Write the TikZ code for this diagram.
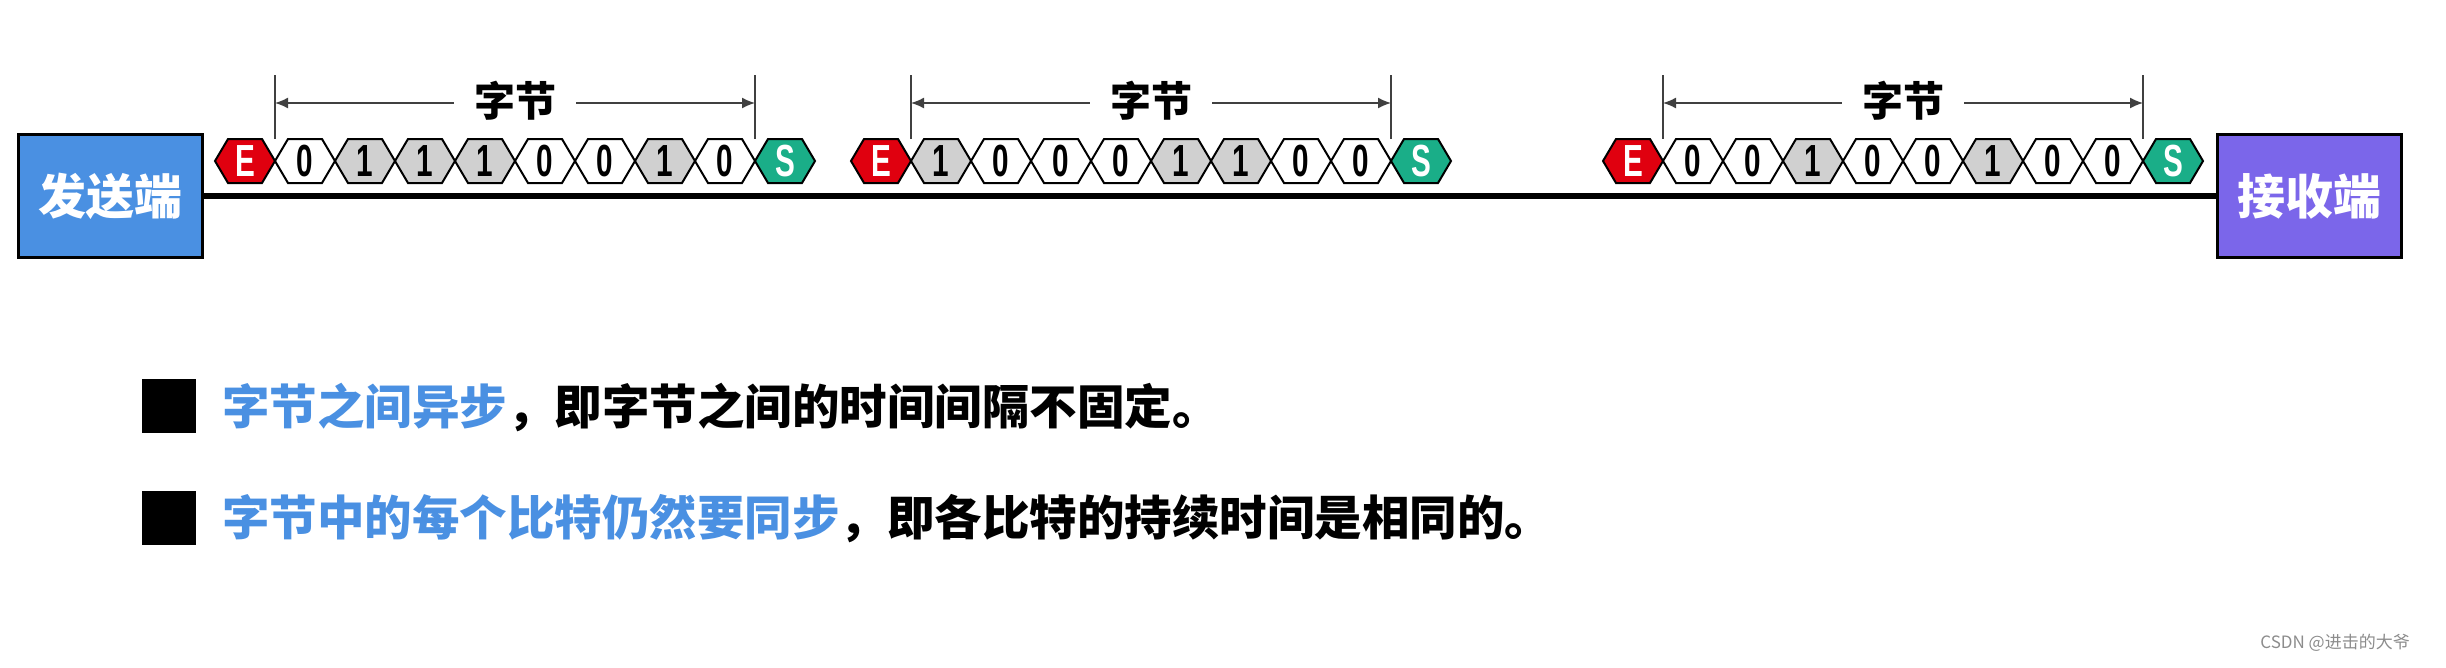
\documentclass[tikz,border=0pt]{standalone}
\usepackage{fontspec}
\usepackage{graphicx}
\setmainfont{Liberation Sans}
\newfontfamily\cjk{Noto Sans CJK SC}
\usetikzlibrary{arrows.meta}
\definecolor{sendblue}{HTML}{4A90E2}
\definecolor{recvpurple}{HTML}{7B66EA}
\definecolor{ered}{HTML}{E0000F}
\definecolor{sgreen}{HTML}{1AAE88}
\definecolor{bitgray}{HTML}{D0D0D0}
\definecolor{txtblue}{HTML}{4A90E2}
\colorlet{bitfill0}{white}
\colorlet{bitfill1}{bitgray}
\newcommand\hexcell[5]{%
  \draw[hexline,fill=#3] ({#2-30},161) -- ({#2-17},139) -- ({#2+17},139) -- ({#2+30},161) -- ({#2+17},183) -- ({#2-17},183) -- cycle;
  \node[bitlbl,text=#4] (#1) at ({#2},161) {\scalebox{0.66}[1]{#5}};}
\begin{document}
\begin{tikzpicture}[x=1pt,y=-1pt,
  endbox/.style={draw=black, line width=3pt, minimum width=184pt, minimum height=123pt, inner sep=0pt,
    font=\cjk\bfseries\fontsize{48}{48}\selectfont, text=white},
  hexline/.style={draw=black, line width=2pt, line join=miter},
  bitlbl/.style={inner sep=0pt, font=\bfseries\fontsize{45}{45}\selectfont},
  dimline/.style={draw=black!75, line width=1.5pt},
  dimarrow/.style={dimline, {Latex[length=13pt,width=11pt]}-{Latex[length=13pt,width=11pt]}},
  bytelbl/.style={fill=white, inner xsep=20pt, inner ysep=6pt, font=\cjk\bfseries\fontsize{41}{41}\selectfont},
  square/.style={fill=black, minimum size=54pt, inner sep=0pt},
  bodytext/.style={anchor=west, inner sep=0pt, font=\cjk\bfseries\fontsize{47.5}{47.5}\selectfont},
  mark/.style={text=txtblue}
]
\useasboundingbox (0,0) rectangle (2446,667);

\node[endbox, fill=sendblue] (sender) at (110,196) {发送端};
\node[endbox, fill=recvpurple] (receiver) at (2309,196) {接收端};
\draw[line width=6pt] (sender.east) -- (receiver.west);

\foreach \bn/\xs/\bits in {a/275/{0,1,1,1,0,0,1,0}, b/911/{1,0,0,0,1,1,0,0}, c/1663/{0,0,1,0,0,1,0,0}} {
  \hexcell{E\bn}{\xs-30}{ered}{white}{E}
  \foreach \b [count=\i] in \bits {
    \hexcell{bit\bn\i}{\xs+60*\i-30}{bitfill\b}{black}{\b}
  }
  \hexcell{S\bn}{\xs+510}{sgreen}{white}{S}
  \coordinate (LT\bn) at (\xs,75);
  \coordinate (LB\bn) at (\xs,139);
  \coordinate (RT\bn) at (\xs+480,75);
  \coordinate (RB\bn) at (\xs+480,139);
  \coordinate (LA\bn) at (\xs,103);
  \coordinate (RA\bn) at (\xs+480,103);
  \draw[dimline] (LT\bn) -- (LB\bn);
  \draw[dimline] (RT\bn) -- (RB\bn);
  \draw[dimarrow] (LA\bn) -- (RA\bn);
  \node[bytelbl] (byte\bn) at (\xs+240,101) {字节};
}

\node[square] (sq1) at (169,406) {};
\node[bodytext] (t1) at (222,407) {\textcolor{txtblue}{字节之间异步}，即字节之间的时间间隔不固定。};
\node[square] (sq2) at (169,518) {};
\node[bodytext] (t2) at (222,519) {\textcolor{txtblue}{字节中的每个比特仍然要同步}，即各比特的持续时间是相同的。};

\node[anchor=east, inner sep=0pt, text=black!45, font=\cjk\fontsize{17}{17}\selectfont] (wm) at (2410,643) {CSDN @进击的大爷};
\end{tikzpicture}
\end{document}
